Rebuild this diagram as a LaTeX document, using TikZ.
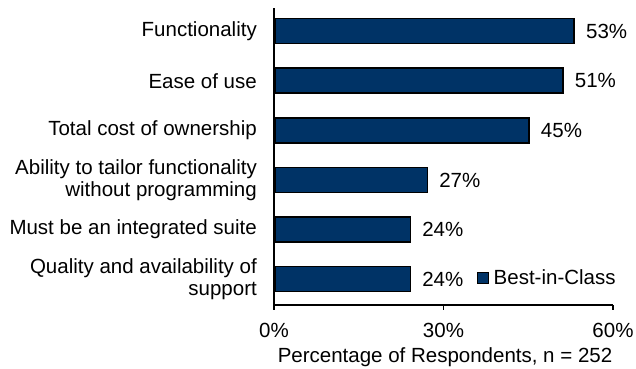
\documentclass[tikz,border=0pt]{standalone}
\usepackage{fontspec}
\setmainfont{Liberation Sans}
\usepackage{xcolor}
\definecolor{navy}{RGB}{0,51,102}
\usepackage{tikz}
\usetikzlibrary{positioning}
\tikzstyle{bar} = [
    rectangle,
    anchor=west,
    minimum height=25pt,
    inner sep=0pt,
    fill=navy,
    draw=black,
    line width=1.5pt,
]
\tikzstyle{label} = [
    inner sep=0pt,
    font=\fontsize{20.5}{22}\selectfont,
]
\tikzstyle{axis} = [line width=1.5pt]

\begin{document}
\begin{tikzpicture}[x=1pt,y=-1pt]
    \useasboundingbox (0,0) rectangle (636,368);

    % bars
    \foreach \i/\val/\lab in {1/53/{Functionality},
                              2/51/{Ease of use},
                              3/45/{Total cost of ownership},
                              4/27/{Ability to tailor functionality\\without programming},
                              5/24/{Must be an integrated suite},
                              6/24/{Quality and availability of\\support}} {
        \node (bar\i) at (274, -18.5+49.6*\i) [bar, minimum width=5.65pt*\val] {};
        \node (val\i) [label, anchor=west, right=11pt of bar\i.east] {\val\%};
        \node (cat\i) at (257, -18.5+49.6*\i) [label, anchor=east, align=right] {\lab};
    }

    % axes
    \coordinate (top) at (274, 8);
    \coordinate (origin) at (274, 305);
    \coordinate (end) at (613, 305);
    \draw [axis] (top) -- (origin) -- (end);
    \foreach \x/\t in {274/0, 443.5/30, 613/60} {
        \draw [axis] (\x, 305) -- (\x, 309.5);
        \node (tick\t) at (\x, 330) [label] {\t\%};
    }
    \node (xlabel) at (445, 357) [label] {Percentage of Respondents, n = 252};

    % legend
    \node (key) at (482.5, 277.5) [bar, anchor=center, minimum width=11pt, minimum height=11pt, line width=1pt] {};
    \node (keytext) [label, anchor=west, right=5pt of key.east] {Best-in-Class};
\end{tikzpicture}
\end{document}
